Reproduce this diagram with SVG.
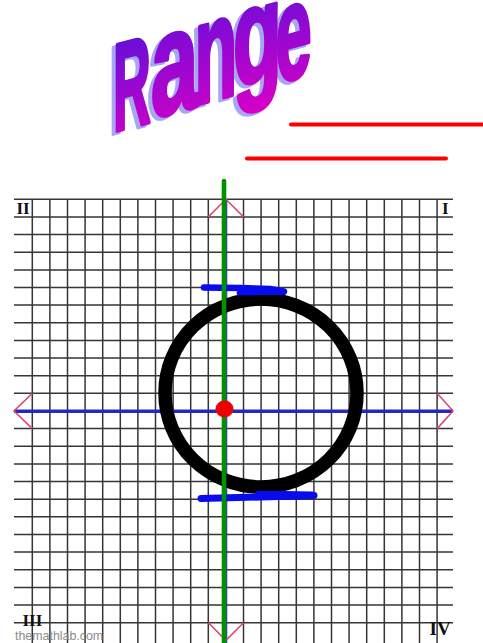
<svg xmlns="http://www.w3.org/2000/svg" xmlns:xlink="http://www.w3.org/1999/xlink" width="483" height="643" viewBox="0 0 483 643">
<style>
.grid{stroke:#363636;stroke-width:1.5;fill:none}
.mark{stroke:#e0486e;stroke-width:1.6;fill:none}
.quad{font-family:"Liberation Serif","Times New Roman",serif;font-weight:bold;fill:#111}
.wm{font-family:"Liberation Sans",Arial,sans-serif;font-size:12.4px;fill:#8c8c8c}
.ltr{font-family:"Liberation Sans",Arial,sans-serif;font-weight:bold;font-size:50px;stroke-width:1.6;stroke-linejoin:round}
.blue{stroke:#0a0aee;fill:none;stroke-linecap:round;stroke-linejoin:round}
.red{stroke:#ff0000;stroke-width:4;stroke-linecap:round}
</style>
<defs>
<linearGradient id="wa" x1="0" y1="0" x2="0" y2="1">
<stop offset="0" stop-color="#5212d6"/>
<stop offset="0.5" stop-color="#9508d2"/>
<stop offset="1" stop-color="#d600c6"/>
</linearGradient>
<g id="word">
<text class="ltr" transform="translate(113,132) skewY(-15) scale(1.05,2.5)">R</text>
<text class="ltr" transform="translate(151,118) skewY(-15) scale(1.7,2.9)">a</text>
<text class="ltr" transform="translate(194.5,105) skewY(-15) scale(1.4,2.9)">n</text>
<text class="ltr" transform="translate(233,88) skewY(-15) scale(1.6,2.75)">g</text>
<text class="ltr" transform="translate(275.5,83) skewY(-15) scale(1.3,2.7)">e</text>
</g>
</defs>
<rect width="483" height="643" fill="#fff"/>
<g id="title">
<use xlink:href="#word" href="#word" fill="#a6a6f4" stroke="#a6a6f4" transform="translate(-4,3)"/>
<use xlink:href="#word" href="#word" fill="url(#wa)" stroke="url(#wa)"/>
</g>
<g id="underlines">
<line class="red" x1="291" y1="124.5" x2="483" y2="124.5"/>
<line class="red" x1="247" y1="158.5" x2="446" y2="158.5"/>
</g>
<g id="grid">
<path class="grid" d="M14 199.3H453M14 216.9H453M14 234.6H453M14 252.2H453M14 269.9H453M14 287.5H453M14 305.1H453M14 322.8H453M14 340.4H453M14 358.1H453M14 375.7H453M14 393.3H453M14 411H453M14 428.6H453M14 446.3H453M14 463.9H453M14 481.5H453M14 499.2H453M14 516.8H453M14 534.5H453M14 552.1H453M14 569.7H453M14 587.4H453M14 605H453M14 622.7H453"/>
<path class="grid" d="M32.3 199V643M49.9 199V643M67.5 199V643M85.1 199V643M102.7 199V643M120.3 199V643M137.9 199V643M155.5 199V643M173.1 199V643M190.7 199V643M208.3 199V643M225.9 199V643M243.5 199V643M261.1 199V643M278.7 199V643M296.3 199V643M313.9 199V643M331.5 199V643M349.1 199V643M366.7 199V643M384.3 199V643M401.9 199V643M419.5 199V643M437.1 199V643"/>
</g>
<g id="axes">
<line x1="14" y1="411.2" x2="453" y2="411.2" stroke="#2626c6" stroke-width="3.5"/>
<line x1="226.8" y1="199" x2="226.8" y2="643" stroke="#3030d0" stroke-width="1"/>
<path class="mark" d="M208.3 216.9L225.9 199.3L243.5 216.9"/>
<path class="mark" d="M208.3 622.7L225.9 640.3L243.5 622.7"/>
<path class="mark" d="M32.3 393.3L14 411L32.3 428.6"/>
<path class="mark" d="M437.1 393.3L453 411L437.1 428.6"/>
</g>
<g id="labels">
<text class="quad" x="16.5" y="213.5" font-size="17">II</text>
<text class="quad" x="445.3" y="213.5" font-size="17" text-anchor="middle">I</text>
<text class="quad" x="22.5" y="626" font-size="17">III</text>
<text class="quad" x="429.5" y="634.5" font-size="19">IV</text>
<text class="wm" x="15" y="639.5">themathlab.com</text>
</g>
<g id="circle">
<ellipse cx="261" cy="393" rx="96" ry="94" fill="none" stroke="#000" stroke-width="13.5"/>
</g>
<g id="range-marks">
<polyline class="blue" stroke-width="6.5" points="204,287.5 240,288 270,289 284,291.5"/>
<polyline class="blue" stroke-width="5" points="239,293 262,292.5 284,292.5"/>
<polyline class="blue" stroke-width="7" points="201,498.5 260,497 314,495.5"/>
<polyline class="blue" stroke-width="5" points="258,493.5 285,493.5 312,494"/>
</g>
<g id="y-axis">
<line x1="224" y1="181" x2="224" y2="643" stroke="#009000" stroke-width="4.6" stroke-linecap="round"/>
</g>
<g id="point">
<ellipse cx="224.5" cy="409" rx="9" ry="8.5" fill="#ee0000"/>
</g>
</svg>
